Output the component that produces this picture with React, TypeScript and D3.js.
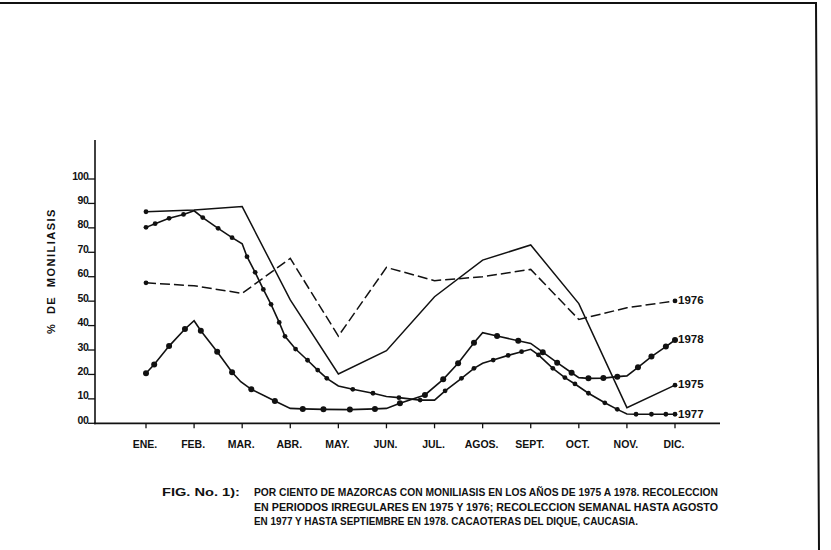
import React from "react";
import * as d3 from "d3";

const months = ["ENE.", "FEB.", "MAR.", "ABR.", "MAY.", "JUN.", "JUL.", "AGOS.", "SEPT.", "OCT.", "NOV.", "DIC."];
const yTickValues = [0, 10, 20, 30, 40, 50, 60, 70, 80, 90, 100];
const yTickLabels = ["00", "10", "20", "30", "40", "50", "60", "70", "80", "90", "100"];

// 1975 and 1976: one value per month
const val1975 = [86.6, 87.3, 88.7, 50.5, 20.2, 29.7, 51.8, 66.8, 73.0, 49.0, 6.4, 15.6];
const val1976 = [57.5, 56.3, 53.2, 67.5, 35.7, 63.8, 58.4, 60.0, 63.0, 42.5, 47.3, 50.1];

// 1977: weekly-ish samples (position in months, value, marker flag)
const pos1977 = [0, 0.19, 0.48, 0.78, 1.0, 1.18, 1.5, 1.79, 2.0, 2.1, 2.27, 2.44, 2.6, 2.77, 2.89, 3.11, 3.36, 3.57, 3.76, 4.0, 4.3, 4.72, 5.0, 5.26, 5.7, 6.0, 6.22, 6.56, 6.82, 7.0, 7.22, 7.53, 7.81, 8.0, 8.16, 8.46, 8.71, 8.92, 9.2, 9.54, 9.8, 10.0, 10.19, 10.51, 10.81, 11.0];
const val1977 = [80.2, 81.7, 83.9, 85.5, 87.0, 84.2, 79.8, 76.0, 73.5, 68.2, 61.8, 54.8, 48.7, 41.3, 35.6, 30.4, 25.8, 21.8, 18.4, 15.3, 13.9, 12.3, 11.0, 10.5, 9.5, 9.5, 13.3, 18.4, 22.5, 24.6, 25.9, 27.8, 29.3, 30.3, 28.0, 22.5, 18.7, 16.1, 12.3, 8.4, 5.7, 3.8, 3.7, 3.7, 3.7, 3.7];
const mark1977 = [1, 1, 1, 1, 0, 1, 1, 1, 0, 1, 1, 1, 1, 1, 1, 1, 1, 1, 1, 0, 1, 1, 0, 1, 1, 0, 1, 1, 1, 0, 1, 1, 1, 0, 1, 1, 1, 1, 1, 1, 1, 0, 1, 1, 1, 1];

// 1978
const pos1978 = [0, 0.17, 0.48, 0.81, 1.0, 1.14, 1.48, 1.79, 1.97, 2.19, 2.68, 3.0, 3.26, 3.69, 4.24, 4.76, 5.0, 5.28, 5.8, 6.18, 6.49, 6.82, 7.0, 7.3, 7.74, 8.0, 8.25, 8.55, 8.85, 9.0, 9.2, 9.51, 9.8, 10.0, 10.23, 10.51, 10.81, 11.0];
const val1978 = [20.5, 24.1, 31.6, 38.6, 42.0, 37.9, 29.3, 20.9, 17.0, 13.9, 9.1, 6.1, 5.9, 5.7, 5.6, 5.9, 6.1, 8.2, 11.6, 18.0, 24.6, 33.0, 37.1, 35.7, 33.8, 32.7, 29.1, 24.8, 20.7, 18.7, 18.4, 18.5, 19.1, 19.4, 22.9, 27.3, 31.4, 34.1];
const mark1978 = [1, 1, 1, 1, 0, 1, 1, 1, 0, 1, 1, 0, 1, 1, 1, 1, 0, 1, 1, 1, 1, 1, 0, 1, 1, 0, 1, 1, 1, 0, 1, 1, 1, 0, 1, 1, 1, 1];

const seriesLabels = ["1976", "1978", "1975", "1977"];
const seriesEndValues = [val1976[11], val1978[val1978.length - 1], val1975[11], val1977[val1977.length - 1]];
const labelOffsets = [-1, -1, -1, 0];

const captionLines = [
  "POR CIENTO DE MAZORCAS CON MONILIASIS EN LOS AÑOS DE 1975 A 1978. RECOLECCION",
  "EN PERIODOS IRREGULARES EN 1975 Y 1976; RECOLECCION SEMANAL HASTA AGOSTO",
  "EN 1977 Y HASTA SEPTIEMBRE EN 1978. CACAOTERAS DEL DIQUE, CAUCASIA.",
];

export default function App() {
  const x = d3.scaleLinear().domain([0, 11]).range([146, 675]);
  const y = d3.scaleLinear().domain([0, 100]).range([423.3, 179]);
  const line = d3
    .line<[number, number]>()
    .x((d) => x(d[0]))
    .y((d) => y(d[1]));

  const pts1975: [number, number][] = val1975.map((v, i) => [i, v]);
  const pts1976: [number, number][] = val1976.map((v, i) => [i, v]);
  const pts1977: [number, number][] = pos1977.map((p, i) => [p, val1977[i]]);
  const pts1978: [number, number][] = pos1978.map((p, i) => [p, val1978[i]]);

  const font = "'Liberation Sans', Arial, sans-serif";
  const axisY = y(0);

  return (
    <svg
      width={831}
      height={550}
      style={{ position: "absolute", left: 0, top: 0, background: "#fff" }}
      fontFamily={font}
    >
      <rect x={0} y={0} width={831} height={550} fill="#fff" />
      {/* frame */}
      <path d="M0,3 L816,3 L819,550" fill="none" stroke="#111" strokeWidth={2} />

      {/* axes */}
      <line x1={95} y1={140} x2={95} y2={axisY + 1} stroke="#111" strokeWidth={1.6} />
      <line x1={94} y1={axisY} x2={720} y2={axisY} stroke="#111" strokeWidth={1.8} />
      {yTickValues.map((v, i) => (
        <g key={"yt" + v}>
          <line x1={88} y1={y(v)} x2={95} y2={y(v)} stroke="#111" strokeWidth={1.3} />
          <text
            x={88.5}
            y={y(v) + 0.5}
            textAnchor="end"
            fontSize={10.5}
            fontWeight="bold"
            fill="#111"
            letterSpacing={-0.4}
          >
            {yTickLabels[i]}
          </text>
        </g>
      ))}
      {months.map((m, i) => (
        <g key={m}>
          <line x1={x(i)} y1={axisY} x2={x(i)} y2={axisY + 5} stroke="#111" strokeWidth={1.3} />
          <text x={x(i) - 1} y={447.5} textAnchor="middle" fontSize={10.5} fontWeight="bold" fill="#111">
            {m}
          </text>
        </g>
      ))}
      <text
        transform="translate(55,271) rotate(-90)"
        textAnchor="middle"
        fontSize={11}
        fontWeight="bold"
        fill="#111"
        letterSpacing={1.5}
        wordSpacing={4}
      >
        % DE MONILIASIS
      </text>

      {/* series */}
      <path d={line(pts1975) || ""} fill="none" stroke="#111" strokeWidth={1.5} />
      <path d={line(pts1976) || ""} fill="none" stroke="#111" strokeWidth={1.5} strokeDasharray="10,4" />
      <path d={line(pts1977) || ""} fill="none" stroke="#111" strokeWidth={1.6} />
      <path d={line(pts1978) || ""} fill="none" stroke="#111" strokeWidth={1.6} />

      {[pts1975[0], pts1975[11], pts1976[0], pts1976[11]].map((d, i) => (
        <circle key={"e" + i} cx={x(d[0])} cy={y(d[1])} r={2.4} fill="#111" />
      ))}
      {pts1977.map((d, i) =>
        mark1977[i] ? <circle key={"a" + i} cx={x(d[0])} cy={y(d[1])} r={2.4} fill="#111" /> : null
      )}
      {pts1978.map((d, i) =>
        mark1978[i] ? <circle key={"b" + i} cx={x(d[0])} cy={y(d[1])} r={3} fill="#111" /> : null
      )}

      {seriesLabels.map((s, i) => (
        <text
          key={s}
          x={x(11) + 3}
          y={y(seriesEndValues[i]) + 4 + labelOffsets[i]}
          fontSize={11.5}
          fontWeight="bold"
          fill="#111"
        >
          {s}
        </text>
      ))}

      {/* caption */}
      <text x={162} y={496} fontSize={11} fontWeight={600} fill="#111" textLength={78} lengthAdjust="spacingAndGlyphs">
        FIG. No. 1):
      </text>
      {captionLines.map((t, i) => (
        <text
          key={"c" + i}
          x={254}
          y={496 + i * 14.5}
          fontSize={11}
          fontWeight="bold"
          fill="#111"
          textLength={i < 2 ? 464 : 384}
          lengthAdjust="spacingAndGlyphs"
        >
          {t}
        </text>
      ))}
    </svg>
  );
}
